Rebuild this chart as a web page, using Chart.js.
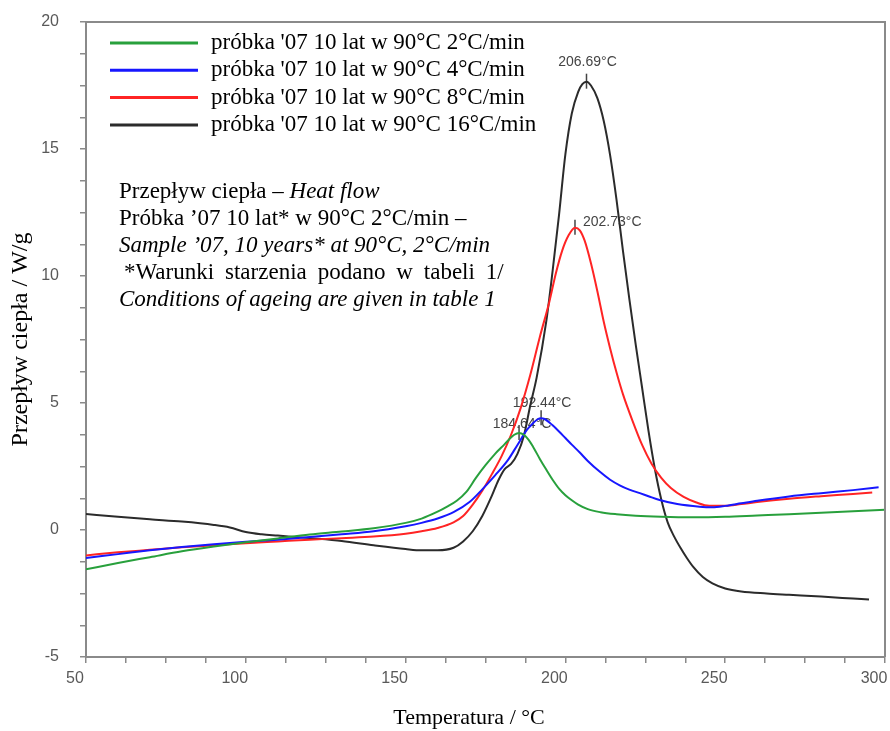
<!DOCTYPE html>
<html><head><meta charset="utf-8">
<script src="https://cdn.jsdelivr.net/npm/chart.js@4"></script>
<style>html,body{margin:0;padding:0;background:#fff}canvas{display:block}</style>
</head><body>
<canvas id="c" width="890" height="731"></canvas>
<script>
// ---- data ----
const seriesLabels = [
  "próbka '07 10 lat w 90°C 2°C/min",
  "próbka '07 10 lat w 90°C 4°C/min",
  "próbka '07 10 lat w 90°C 8°C/min",
  "próbka '07 10 lat w 90°C 16°C/min"
];
const seriesColors = ['#28a03c', '#1717ff', '#ff2424', '#2b2b2b'];

const temps2 = [50,60,70,80,90,100,110,120,130,140,150,155,160,163,166,169,172,175,178,181,182.5,184,185.5,187,188.5,190,192,194,196,198,200,202,204,207,211,216,222,230,240,250,260,270,280,290,300];
const vals2  = [-1.55,-1.3,-1.07,-0.84,-0.65,-0.48,-0.33,-0.18,-0.06,0.07,0.28,0.45,0.72,0.92,1.15,1.5,2.05,2.55,3.0,3.38,3.58,3.75,3.82,3.75,3.55,3.25,2.8,2.38,1.98,1.63,1.37,1.17,1.0,0.82,0.7,0.62,0.56,0.52,0.5,0.52,0.57,0.62,0.68,0.74,0.8];

const temps4 = [50,60,70,80,90,100,110,120,130,140,150,155,160,165,170,174,178,182,185,188,190,191.2,192.4,193.5,196,198,200,202,204.5,207,210.7,214,217,220,223.3,226,229.5,235,242,246,250,255,260,270,280,290,298];
const vals4  = [-1.1,-0.95,-0.8,-0.67,-0.56,-0.46,-0.38,-0.28,-0.17,-0.05,0.15,0.28,0.45,0.7,1.1,1.6,2.15,2.75,3.35,3.95,4.22,4.35,4.4,4.37,4.12,3.88,3.62,3.36,3.05,2.72,2.3,1.98,1.76,1.59,1.45,1.33,1.18,1.02,0.92,0.9,0.95,1.05,1.15,1.32,1.45,1.57,1.68];

const temps8 = [50,60,70,80,90,100,110,120,130,140,150,155,160,165,168,171,174,177,180,183,186,189,192,195,197,199,201,203,204.5,206,208,210,212,214,216,218,221,224,227,230,233,237,241,245,250,255,260,270,280,290,296];
const vals8  = [-1.0,-0.88,-0.78,-0.68,-0.6,-0.52,-0.45,-0.38,-0.32,-0.26,-0.15,-0.05,0.08,0.3,0.55,1.0,1.55,2.2,2.9,3.75,4.8,6.1,7.6,9.0,10.1,11.0,11.6,11.9,11.8,11.4,10.5,9.4,8.2,7.15,6.2,5.35,4.3,3.35,2.6,2.05,1.65,1.3,1.08,0.95,0.95,1.02,1.1,1.23,1.33,1.42,1.48];

const temps16 = [50,60,70,80,90,95,100,105,110,120,130,140,150,155,160,165,168,171,174,177,179,181,183,185,187,189,191,194,196,198,200,202,204,205.3,206.6,208,210,212,214,216,218,220,222,224,226,228,230,232,234,236,238,240,243,246,250,255,263,270,280,290,295];
const vals16  = [0.63,0.52,0.42,0.33,0.2,0.1,-0.08,-0.17,-0.22,-0.32,-0.43,-0.6,-0.75,-0.8,-0.8,-0.7,-0.45,-0.05,0.55,1.35,1.95,2.4,2.6,3.0,3.7,4.9,6.0,8.2,10.2,12.4,14.8,16.4,17.25,17.55,17.65,17.5,17.0,16.1,14.75,13.0,11.0,9.1,7.3,5.6,3.9,2.4,1.2,0.3,-0.25,-0.7,-1.1,-1.45,-1.85,-2.1,-2.3,-2.42,-2.5,-2.55,-2.62,-2.7,-2.74];

const peakLabels = ['184.64°C', '192.44°C', '202.73°C', '206.69°C'];
const peakTemps  = [185.5, 192.4, 203, 206.6];
const peakVals   = [3.82, 4.4, 11.9, 17.65];

const xTickLabels = [50, 100, 150, 200, 250, 300];
const yTickLabels = [-5, 0, 5, 10, 15, 20];
const xTitle = 'Temperatura / °C';
const yTitle = 'Przepływ ciepła / W/g';

const noteLines = [
  [['Przepływ ciepła – ', false], ['Heat flow', true]],
  [['Próbka ’07 10 lat* w 90°C 2°C/min –', false]],
  [['Sample ’07, 10 years* at 90°C, 2°C/min', true]],
  [['*Warunki starzenia podano w tabeli 1/', false]],
  [['Conditions of ageing are given in table 1', true]]
];

// ---- build ----
const allTemps = [temps2, temps4, temps8, temps16];
const allVals = [vals2, vals4, vals8, vals16];
const datasets = seriesLabels.map((lab, i) => ({
  label: lab,
  data: allTemps[i].map((t, k) => ({x: t, y: allVals[i][k]})),
  borderColor: seriesColors[i],
  borderWidth: 2,
  pointRadius: 0,
  fill: false,
  cubicInterpolationMode: 'monotone'
}));

const SERIF = '"Liberation Serif", "Times New Roman", serif';
const SANS = '"Liberation Sans", Arial, sans-serif';
const AXIS = '#8a8a8a';

const framePlugin = {
  id: 'frame',
  afterDatasetsDraw(chart) {
    const {ctx, chartArea: a} = chart;
    ctx.save();
    ctx.strokeStyle = AXIS; ctx.lineWidth = 2;
    ctx.beginPath();
    ctx.moveTo(a.left, a.top); ctx.lineTo(a.right, a.top); ctx.lineTo(a.right, a.bottom);
    ctx.stroke();
    ctx.restore();
  }
};

const peakPlugin = {
  id: 'peaks',
  beforeDatasetsDraw(chart) {
    const {ctx, scales: {x, y}} = chart;
    const offs = [[3, -9, 'center'], [1, -15, 'center'], [8, -6, 'left'], [1, -20, 'center']];
    ctx.save();
    ctx.font = '14px ' + SANS;
    ctx.fillStyle = '#444';
    ctx.strokeStyle = '#444';
    ctx.lineWidth = 1.5;
    ctx.textBaseline = 'middle';
    peakLabels.forEach((lab, i) => {
      const px = x.getPixelForValue(peakTemps[i]);
      const py = y.getPixelForValue(peakVals[i]);
      ctx.beginPath(); ctx.moveTo(px, py - 8); ctx.lineTo(px, py + 7); ctx.stroke();
      ctx.textAlign = offs[i][2];
      ctx.fillText(lab, px + offs[i][0], py + offs[i][1]);
    });
    ctx.restore();
  }
};

const notesPlugin = {
  id: 'notes',
  afterDatasetsDraw(chart) {
    const ctx = chart.ctx;
    ctx.save();
    // legend
    ctx.textBaseline = 'middle';
    ctx.textAlign = 'left';
    ctx.font = '23px ' + SERIF;
    chart.data.datasets.forEach((ds, i) => {
      const yy = 43 + i * 27.3;
      ctx.strokeStyle = ds.borderColor; ctx.lineWidth = 3;
      ctx.beginPath(); ctx.moveTo(110, yy); ctx.lineTo(198, yy); ctx.stroke();
      ctx.fillStyle = '#000';
      ctx.fillText(ds.label, 211, yy);
    });
    // annotation block
    ctx.textBaseline = 'alphabetic';
    const x0 = 119, b0 = 198, lh = 27;
    const fontN = '23px ' + SERIF, fontI = 'italic 23px ' + SERIF;
    ctx.font = fontI;
    const w5 = ctx.measureText(noteLines[4][0][0]).width;
    noteLines.forEach((segs, li) => {
      const by = b0 + li * lh;
      if (li === 3) {
        ctx.font = fontN;
        const words = segs[0][0].split(' ');
        const total = words.reduce((s, w) => s + ctx.measureText(w).width, 0);
        const start = x0 + 5, width = w5 + 8 - 5;
        const gap = (width - total) / (words.length - 1);
        let cx = start;
        words.forEach(w => { ctx.fillText(w, cx, by); cx += ctx.measureText(w).width + gap; });
        return;
      }
      let cx = x0;
      segs.forEach(([t, it]) => {
        ctx.font = it ? fontI : fontN;
        ctx.fillText(t, cx, by);
        cx += ctx.measureText(t).width;
      });
    });
    ctx.restore();
  }
};

new Chart(document.getElementById('c'), {
  type: 'line',
  data: {datasets},
  plugins: [framePlugin, peakPlugin, notesPlugin],
  options: {
    responsive: false,
    animation: false,
    layout: {padding: {top: 22, right: 5, bottom: 0, left: 0}},
    plugins: {legend: {display: false}, tooltip: {enabled: false}},
    scales: {
      x: {
        type: 'linear', min: 50, max: 300,
        ticks: {
          stepSize: 12.5, autoSkip: false, maxRotation: 0, minRotation: 0,
          padding: 6, labelOffset: -11, color: '#595959',
          font: {family: SANS, size: 16},
          callback: v => xTickLabels.includes(v) ? String(v) : ''
        },
        grid: {drawOnChartArea: false, drawTicks: true, tickLength: 6, color: AXIS, lineWidth: 1.5},
        border: {display: true, color: AXIS, width: 2},
        title: {display: true, text: xTitle + '\u00a0\u00a0\u00a0\u00a0\u00a0\u00a0', color: '#000', font: {family: SERIF, size: 22}, padding: {top: 0, bottom: 0}},
        afterFit: s => { s.height = 74; s.paddingLeft = 0; s.paddingRight = 0; }
      },
      y: {
        type: 'linear', min: -5, max: 20,
        ticks: {
          stepSize: 1.25, autoSkip: false, padding: 21, color: '#595959',
          font: {family: SANS, size: 16},
          callback: v => yTickLabels.includes(v) ? String(v) : ''
        },
        grid: {drawOnChartArea: false, drawTicks: true, tickLength: 6, color: AXIS, lineWidth: 1.5},
        border: {display: true, color: AXIS, width: 2},
        title: {display: true, text: yTitle, color: '#000', font: {family: SERIF, size: 24}, padding: {top: 6, bottom: 0}},
        afterFit: s => { s.width = 86; s.paddingTop = 0; s.paddingBottom = 0; }
      }
    }
  }
});
</script>
</body></html>
